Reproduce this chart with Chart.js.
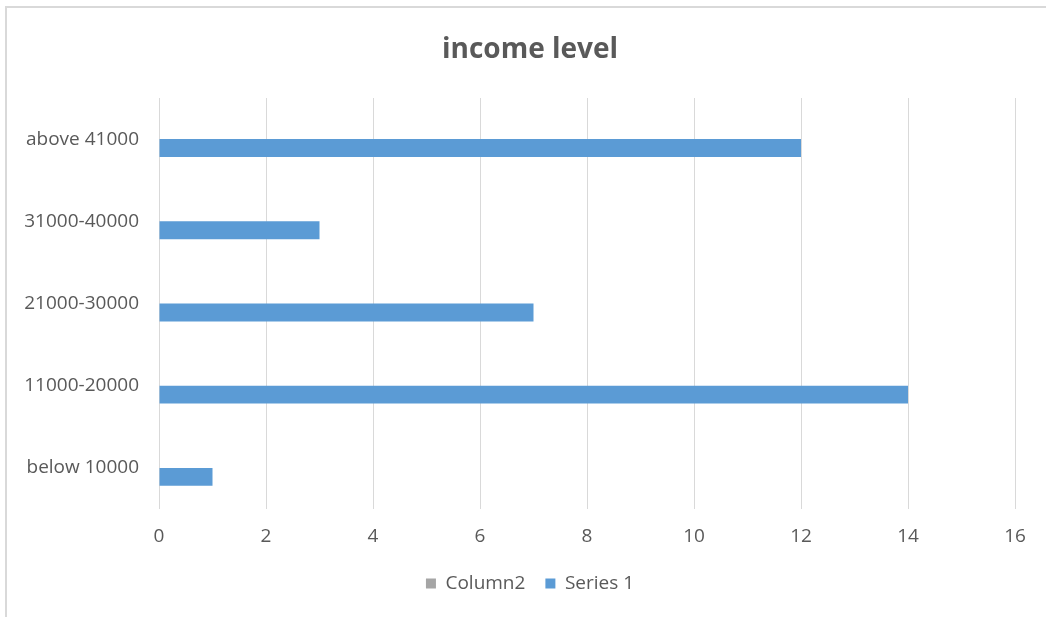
<!DOCTYPE html>
<html>
<head>
<meta charset="utf-8">
<script src="https://cdn.jsdelivr.net/npm/chart.js@4/dist/chart.umd.min.js"></script>
<style>
  html, body { margin: 0; padding: 0; background: #fff; overflow: hidden; }
  #frame { position: absolute; left: 5px; top: 6px; width: 2000px; height: 2000px; border: 2px solid #d9d9d9; }
  #wrap { position: absolute; left: 0; top: 0; width: 1046px; height: 617px; }
</style>
</head>
<body>
<div id="frame"></div>
<div id="wrap"><canvas id="c" width="1046" height="617"></canvas></div>
<script>
// categories listed top to bottom as they appear on the chart
const categories = ["above 41000", "31000-40000", "21000-30000", "11000-20000", "below 10000"];
const column2 = [null, null, null, null, null];
const series1 = [12, 3, 7, 14, 1];
const xTicks = [0, 2, 4, 6, 8, 10, 12, 14, 16];

const textColor = "#595959";
const gridColor = "#d9d9d9";
const fontFamily = "'Open Sans', sans-serif";

const chart = new Chart(document.getElementById("c"), {
  type: "bar",
  data: {
    labels: categories,
    datasets: [
      { label: "Column2", data: column2, backgroundColor: "#a5a5a5", borderWidth: 0 },
      { label: "Series 1", data: series1, backgroundColor: "#5b9bd5", borderWidth: 0 },
    ],
  },
  options: {
    indexAxis: "y",
    responsive: false,
    animation: false,
    events: [],
    layout: { padding: { left: 14, right: 0, top: 0, bottom: 14 } },
    datasets: { bar: { categoryPercentage: 0.435, barPercentage: 1 } },
    scales: {
      x: {
        min: 0,
        max: 16,
        afterBuildTicks: (scale) => { scale.ticks = xTicks.map((v) => ({ value: v })); },
        afterFit: (scale) => { scale.height = 45; },
        grid: { color: gridColor, lineWidth: 1, drawTicks: false },
        border: { display: false },
        ticks: { color: textColor, padding: 16, font: { family: fontFamily, size: 19 } },
      },
      y: {
        afterFit: (scale) => { scale.width = 145; },
        grid: { display: false, drawTicks: false },
        border: { display: false },
        ticks: { color: textColor, padding: 20, font: { family: fontFamily, size: 19 } },
      },
      // empty right-hand spacer so the title and legend centre like the original
      yRight: {
        type: "category",
        position: "right",
        afterFit: (scale) => { scale.width = 31; },
        grid: { display: false, drawTicks: false },
        border: { display: false },
        ticks: { display: false },
      },
    },
    plugins: {
      title: {
        display: true,
        text: "income level",
        color: textColor,
        font: { family: fontFamily, size: 28, weight: "bold" },
        padding: { top: 33, bottom: 31.4 },
      },
      legend: {
        position: "bottom",
        labels: {
          color: textColor,
          boxWidth: 10,
          boxHeight: 10,
          padding: 20,
          font: { family: fontFamily, size: 19 },
        },
      },
      tooltip: { enabled: false },
    },
  },
});
</script>
</body>
</html>
